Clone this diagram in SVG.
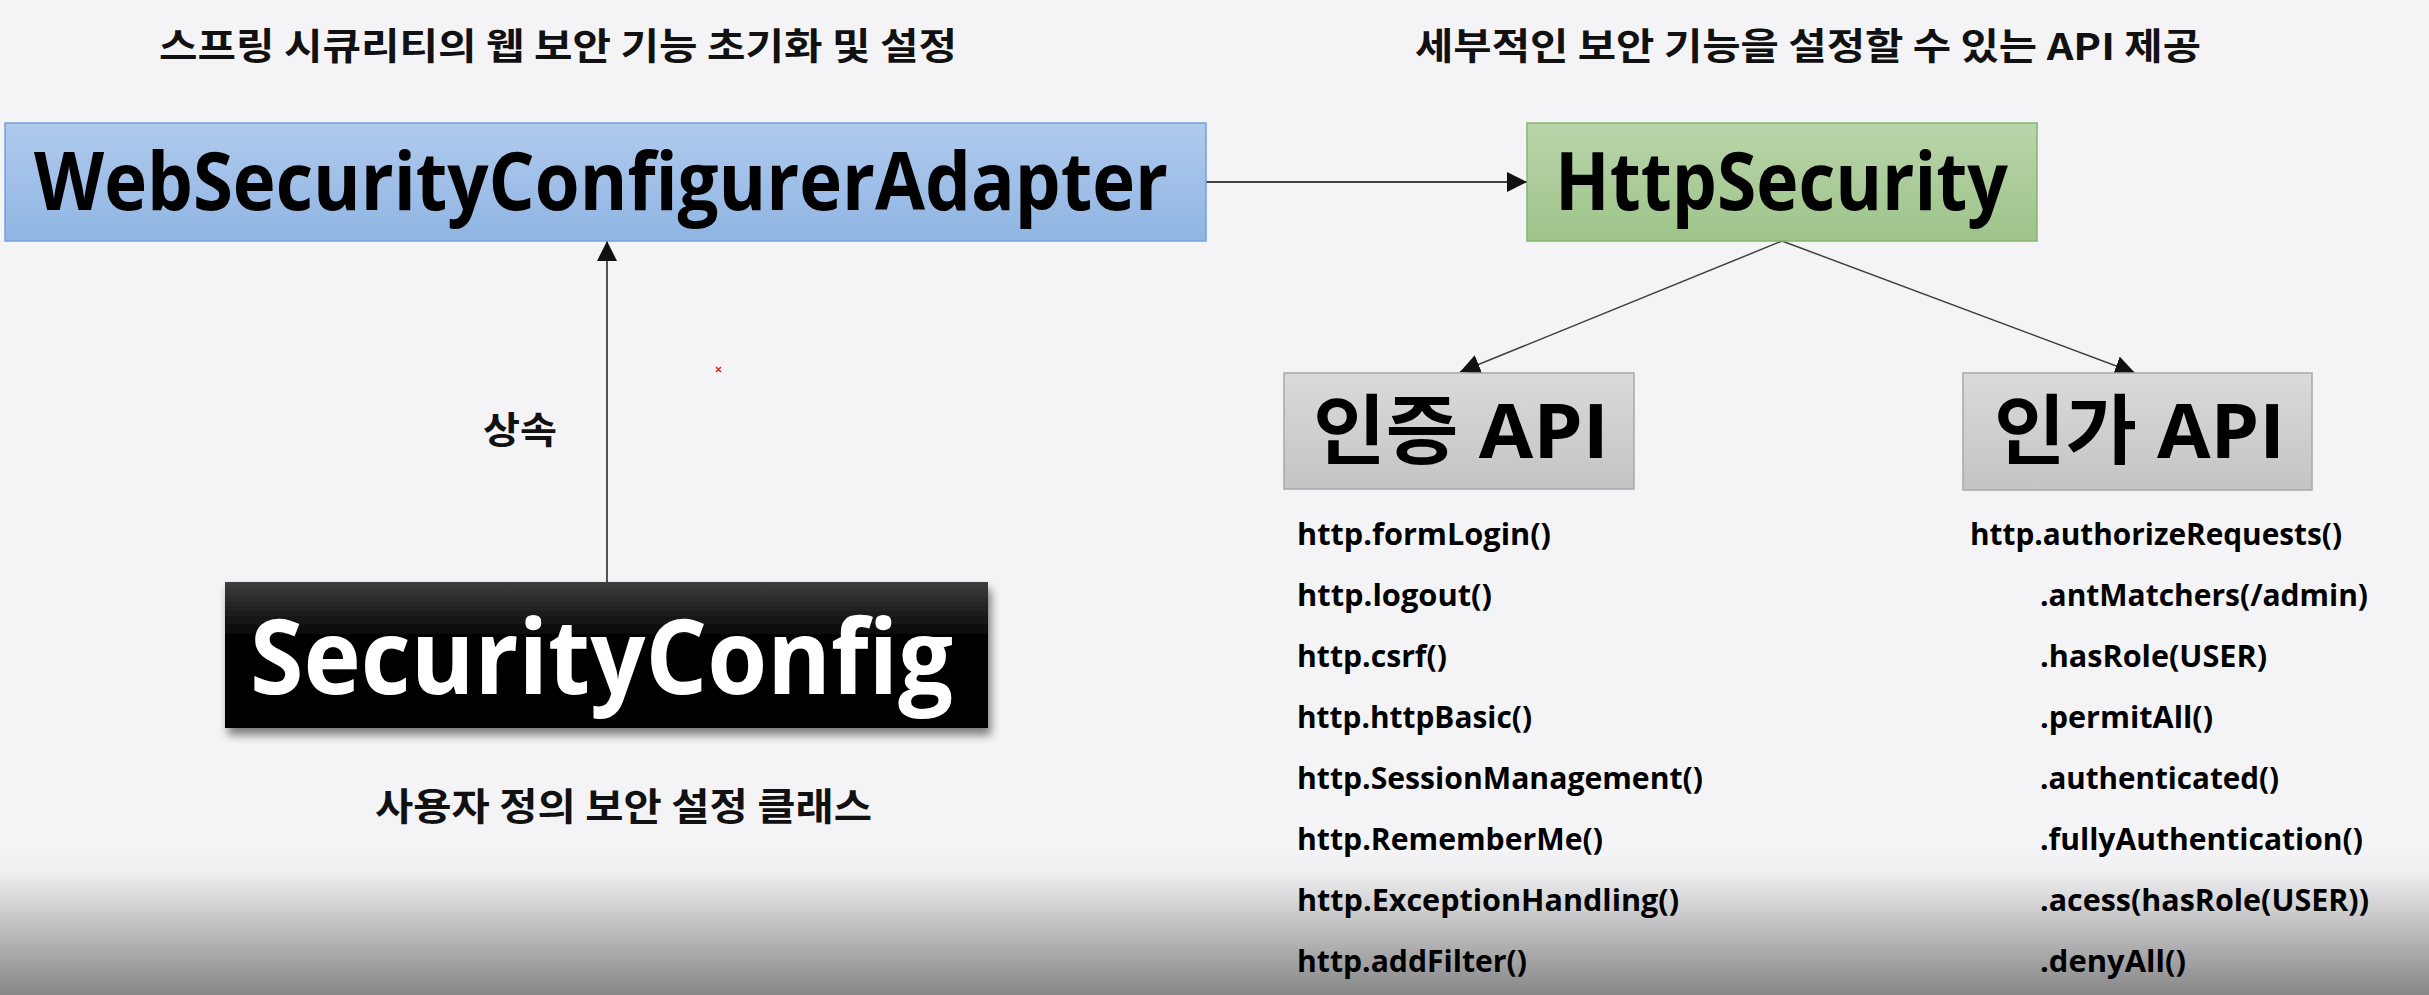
<svg xmlns="http://www.w3.org/2000/svg" width="2429" height="995" viewBox="0 0 2429 995">
  <style>
    .ko { font-family: "Noto Sans CJK KR", "Open Sans", sans-serif; font-weight: 700; fill: #111; }
    .big { font-family: "Open Sans", "Noto Sans CJK KR", sans-serif; font-weight: 700; fill: #000; }
    .api { font-family: "Open Sans", "Noto Sans CJK KR", sans-serif; font-weight: 700; fill: #000; font-size: 30px; }
    .conn { stroke: #404040; fill: none; }
  </style>
  <defs>
    <linearGradient id="gBlue" x1="0" y1="0" x2="0" y2="1">
      <stop offset="0" stop-color="#b0caed"/>
      <stop offset="1" stop-color="#8fb5e3"/>
    </linearGradient>
    <linearGradient id="gGreen" x1="0" y1="0" x2="0" y2="1">
      <stop offset="0" stop-color="#bad5aa"/>
      <stop offset="1" stop-color="#9dc48a"/>
    </linearGradient>
    <linearGradient id="gGray" x1="0" y1="0" x2="0" y2="1">
      <stop offset="0" stop-color="#dadada"/>
      <stop offset="1" stop-color="#c4c4c4"/>
    </linearGradient>
    <linearGradient id="gBlack" x1="0" y1="0" x2="0" y2="1">
      <stop offset="0" stop-color="#3e3e3e"/>
      <stop offset="0.4" stop-color="#000"/>
      <stop offset="1" stop-color="#000"/>
    </linearGradient>
    <linearGradient id="gShade" x1="0" y1="0" x2="0" y2="1">
      <stop offset="0" stop-color="#000" stop-opacity="0"/>
      <stop offset="0.15" stop-color="#000" stop-opacity="0.02"/>
      <stop offset="0.6" stop-color="#000" stop-opacity="0.25"/>
      <stop offset="1" stop-color="#000" stop-opacity="0.45"/>
    </linearGradient>
    <filter id="shadow" x="-10%" y="-10%" width="120%" height="140%">
      <feGaussianBlur in="SourceAlpha" stdDeviation="5"/>
      <feOffset dx="3" dy="7" result="b"/>
      <feComponentTransfer><feFuncA type="linear" slope="0.5"/></feComponentTransfer>
      <feMerge><feMergeNode/><feMergeNode in="SourceGraphic"/></feMerge>
    </filter>
    <marker id="arrow" viewBox="0 0 20 20" refX="20" refY="10" markerWidth="20" markerHeight="20" markerUnits="userSpaceOnUse" orient="auto">
      <path d="M0,0 L20,10 L0,20 z" fill="#111"/>
    </marker>
  </defs>

  <rect x="0" y="0" width="2429" height="995" fill="#f4f4f6"/>
  <rect x="0" y="850" width="2429" height="145" fill="url(#gShade)"/>

  <g id="titles">
    <text class="ko" x="159" y="60" font-size="37" textLength="798" lengthAdjust="spacingAndGlyphs">스프링 시큐리티의 웹 보안 기능 초기화 및 설정</text>
    <text class="ko" x="1415" y="60" font-size="37" textLength="786" lengthAdjust="spacingAndGlyphs">세부적인 보안 기능을 설정할 수 있는 API 제공</text>
  </g>

  <g id="connectors">
    <line class="conn" x1="1206" y1="182" x2="1527" y2="182" stroke-width="2" marker-end="url(#arrow)"/>
    <line class="conn" x1="607" y1="582" x2="607" y2="241" stroke-width="1.8" marker-end="url(#arrow)"/>
    <line class="conn" x1="1782" y1="241" x2="1460" y2="372" stroke-width="1.5" marker-end="url(#arrow)"/>
    <line class="conn" x1="1782" y1="241" x2="2135" y2="373" stroke-width="1.5" marker-end="url(#arrow)"/>
  </g>

  <g id="label-inherit">
    <text class="ko" x="483" y="444" font-size="37" textLength="74" lengthAdjust="spacingAndGlyphs">상속</text>
  </g>

  <g id="node-wsca">
    <rect x="5" y="123" width="1201" height="118" fill="url(#gBlue)" stroke="#74a0d8" stroke-width="1.5"/>
    <text class="big" x="34" y="210" font-size="80" textLength="1134" lengthAdjust="spacingAndGlyphs">WebSecurityConfigurerAdapter</text>
  </g>

  <g id="node-httpsecurity">
    <rect x="1527" y="123" width="510" height="118" fill="url(#gGreen)" stroke="#86b56e" stroke-width="1.5"/>
    <text class="big" x="1555" y="210" font-size="80" textLength="453" lengthAdjust="spacingAndGlyphs">HttpSecurity</text>
  </g>

  <g id="node-securityconfig">
    <rect x="225" y="582" width="763" height="146" fill="url(#gBlack)" filter="url(#shadow)"/>
    <text class="big" x="250" y="694" font-size="104" fill="#fff" style="fill:#fff" textLength="703" lengthAdjust="spacingAndGlyphs">SecurityConfig</text>
  </g>

  <g id="label-custom">
    <text class="ko" x="375" y="820" font-size="38" textLength="497" lengthAdjust="spacingAndGlyphs">사용자 정의 보안 설정 클래스</text>
  </g>

  <g id="node-authn">
    <rect x="1284" y="373" width="350" height="116" fill="url(#gGray)" stroke="#a8a8a8" stroke-width="1.5"/>
    <text class="big" x="1313" y="458" font-size="76" textLength="296" lengthAdjust="spacingAndGlyphs">인증 API</text>
  </g>

  <g id="node-authz">
    <rect x="1963" y="373" width="349" height="117" fill="url(#gGray)" stroke="#a8a8a8" stroke-width="1.5"/>
    <text class="big" x="1994" y="458" font-size="76" textLength="291" lengthAdjust="spacingAndGlyphs">인가 API</text>
  </g>

  <g id="list-authn">
    <text class="api" x="1297" y="545" textLength="254" lengthAdjust="spacingAndGlyphs">http.formLogin()</text>
    <text class="api" x="1297" y="606" textLength="195" lengthAdjust="spacingAndGlyphs">http.logout()</text>
    <text class="api" x="1297" y="667" textLength="150" lengthAdjust="spacingAndGlyphs">http.csrf()</text>
    <text class="api" x="1297" y="728" textLength="235" lengthAdjust="spacingAndGlyphs">http.httpBasic()</text>
    <text class="api" x="1297" y="789" textLength="406" lengthAdjust="spacingAndGlyphs">http.SessionManagement()</text>
    <text class="api" x="1297" y="850" textLength="306" lengthAdjust="spacingAndGlyphs">http.RememberMe()</text>
    <text class="api" x="1297" y="911" textLength="382" lengthAdjust="spacingAndGlyphs">http.ExceptionHandling()</text>
    <text class="api" x="1297" y="972" textLength="230" lengthAdjust="spacingAndGlyphs">http.addFilter()</text>
  </g>

  <g id="list-authz">
    <text class="api" x="1970" y="545" textLength="372" lengthAdjust="spacingAndGlyphs">http.authorizeRequests()</text>
    <text class="api" x="2040" y="606" textLength="328" lengthAdjust="spacingAndGlyphs">.antMatchers(/admin)</text>
    <text class="api" x="2040" y="667" textLength="227" lengthAdjust="spacingAndGlyphs">.hasRole(USER)</text>
    <text class="api" x="2040" y="728" textLength="173" lengthAdjust="spacingAndGlyphs">.permitAll()</text>
    <text class="api" x="2040" y="789" textLength="239" lengthAdjust="spacingAndGlyphs">.authenticated()</text>
    <text class="api" x="2040" y="850" textLength="323" lengthAdjust="spacingAndGlyphs">.fullyAuthentication()</text>
    <text class="api" x="2040" y="911" textLength="329" lengthAdjust="spacingAndGlyphs">.acess(hasRole(USER))</text>
    <text class="api" x="2040" y="972" textLength="146" lengthAdjust="spacingAndGlyphs">.denyAll()</text>
  </g>

  <g id="mark">
    <path d="M716,367 L721,372 M721,367 L716,372" stroke="#d22" stroke-width="1.5"/>
  </g>
</svg>
